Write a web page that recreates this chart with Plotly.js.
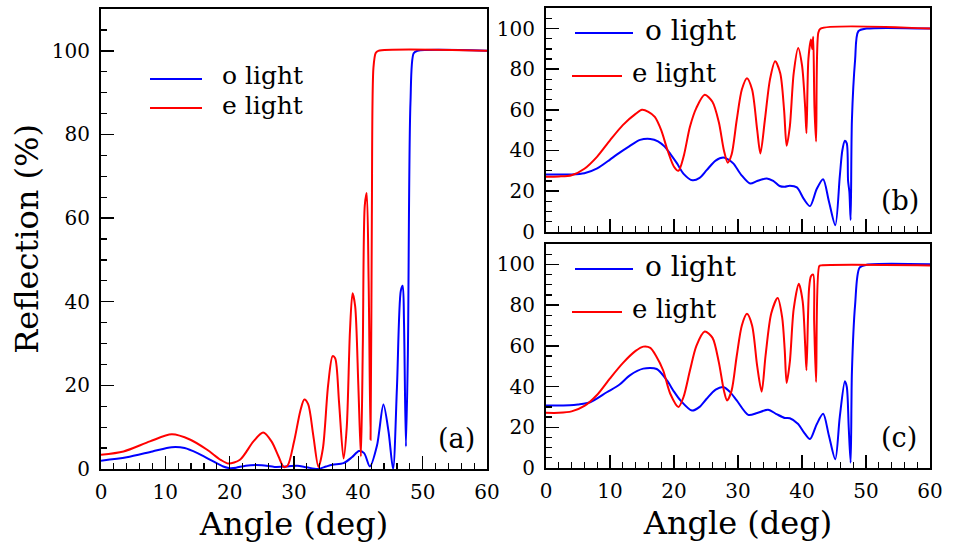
<!DOCTYPE html>
<html>
<head>
<meta charset="utf-8">
<script src="https://cdn.plot.ly/plotly-3.0.1.min.js"></script>
<style>html,body{margin:0;padding:0;background:#fff;}#chart{width:955px;height:555px;}</style>
</head>
<body>
<div id="chart"></div>
<script>
// ---------- DATA ----------
const angleA_o = [0,4,8,11,13,15,17,19,20,21,22.5,25,27,29,30.5,32,33.7,35,36,37.7,39,40.1,40.9,41.8,42.9,43.9,44.7,45.4,46.0,46.6,46.9,47.1,47.4,47.7,48.1,48.6,49.2,60];
const reflA_o  = [2.0,2.8,4.2,5.2,5.0,3.8,2.2,0.6,0.2,0.3,0.8,0.9,0.5,0.6,0.8,0.4,0.0,0.6,1.0,1.4,2.8,4.3,3.8,0.6,5.6,15.4,8.9,0.0,19.4,42.6,43.8,35,5.4,27.5,87.4,99.4,100,100];
const angleA_e = [0,3.5,7.6,11,13.9,16.5,18.6,19.8,21.6,23.7,25.2,26.5,27.6,28.4,29,30,31,31.6,32.2,33,33.8,34.5,35.3,36,36.4,37,37.7,38.2,38.7,39.1,39.5,40,40.4,40.7,41.0,41.3,41.6,41.9,42.1,42.35,42.7,43.1,60];
const reflA_e  = [3.4,4.2,6.6,8.3,7.0,4.6,2.2,1.3,2.2,6.6,8.7,6.6,3.0,0.5,0.8,6.5,14.0,16.6,15.5,8,0.5,5,20,27,26.5,16,2.5,10,33,42,39,20,3,30,63,66,45,7,60,96,99.5,100,100];
const angleB_o = [0,4,6,8,10,11,13,14.7,16.3,17.5,18.5,19.5,20.5,21.5,22.9,24,25.1,26.5,27.7,28.5,29.3,30.5,31.9,33,34.5,35.5,36.5,37.3,38.1,39.2,40.3,41.25,42.3,43.3,44.2,45.2,45.9,46.3,46.7,47.0,47.2,47.4,47.6,47.8,48.3,48.8,50.1,60];
const reflB_o  = [28.2,28.2,28.8,31.2,35.5,37.8,42,45.2,45.7,44.5,42,38,33.5,28.5,25.3,26.5,30.3,35,36.5,35.5,33.5,28,23.7,25,26.2,25,22.5,22.1,22.6,21.8,16,12.6,21,25.8,15,3.2,27.1,40,44.8,43.5,25,19.7,5.7,55,84.7,98.7,100,100];
const angleB_e = [0,2,4,6,8,10,12,14,15,16,17,18,19,20,20.7,21.5,22.5,23.5,24.8,26,27,27.8,28.4,29,29.8,30.6,31.4,32.2,33,33.5,34.2,35,35.8,36.6,37.2,37.6,38.1,38.7,39.4,40,40.5,40.7,41.0,41.4,41.6,41.75,41.95,42.2,42.55,42.9,60];
const reflB_e  = [27.1,27.2,27.8,31,37,45,52.5,58,60,59,56.5,50,40,32,30,37,51.8,61,67.4,64,54,40,34,38,55,70,75.6,70,50,38.5,55,75,83.9,78,60,42.3,51.8,78,90.5,82,60.8,48.5,85,94.6,90,96,61,44.4,97.9,100,100];
const angleC_o = [0,3.7,5,6.9,9.5,11.5,13.1,15.2,17.3,18.9,20,21,22.8,24,25.1,26.5,27.7,28.7,29.8,31.6,33,34.7,36,37.3,38.1,39.4,40.3,41.25,42.3,43.3,44.2,45.2,45.9,46.7,47.0,47.3,47.6,47.8,48.3,49.0,50.1,60];
const reflC_o  = [30.7,30.8,31.2,32.3,37.2,41,45.5,48.8,48.6,43,37.5,33.2,28.2,30,34,38.5,39.8,37.5,33.2,26.1,27,28.6,26.5,24.6,24.4,21.6,17.5,14.2,21.5,26.6,16,4.3,25,42.6,39.8,20,2.6,47.2,80.2,98.4,99.8,100];
const angleC_e = [0,2,4,6,8,10,12,14,15.2,16.3,17.2,18.3,19.4,20.7,21.5,22.5,23.5,24.8,26,27,27.8,28.3,29,29.8,30.6,31.4,32.2,33,33.7,34.3,35.2,36.2,36.9,37.3,37.6,38.1,38.7,39.5,40.1,40.5,40.7,41.1,41.4,41.75,41.9,42.2,42.7,43,60];
const reflC_e  = [27.1,27.1,27.8,30.5,36,44,51.5,57.5,59.6,59,55,48,36.6,30,35,48,60,67,64,52,38,33.2,38,55,70,75.7,70,50,37.5,55,76,83.5,74,58,41.8,52.1,78,90.5,82,60,48,88,94.2,95,72,42.2,99.2,99.5,99.5];
const xTickVals = [0,10,20,30,40,50,60];
const yTickVals = [0,20,40,60,80,100];
const seriesNames = ["o light","e light"];
const panelLabels = ["(a)","(b)","(c)"];
const xTitle = "Angle (deg)";
const yTitle = "Reflection (%)";

// ---------- STYLE / LAYOUT ----------
const W = 955, H = 555;
const px = v => v / W;
const py = v => 1 - v / H;
const BLUE = "#0000ff", RED = "#ff0000";
const FONT = "DejaVu Serif";

function tr(x, y, color, xa, ya, name) {
  return {x: x, y: y, type: "scatter", mode: "lines", name: name, showlegend: false,
          line: {color: color, width: 2, shape: "spline", smoothing: 0.8}, xaxis: xa, yaxis: ya, hoverinfo: "skip"};
}
const data = [
  tr(angleA_o, reflA_o, BLUE, "x", "y", seriesNames[0]),
  tr(angleA_e, reflA_e, RED, "x", "y", seriesNames[1]),
  tr(angleB_o, reflB_o, BLUE, "x2", "y2", seriesNames[0]),
  tr(angleB_e, reflB_e, RED, "x2", "y2", seriesNames[1]),
  tr(angleC_o, reflC_o, BLUE, "x3", "y3", seriesNames[0]),
  tr(angleC_e, reflC_e, RED, "x3", "y3", seriesNames[1])
];

function xax(dom, anchor, showLabels, title) {
  const a = {domain: dom, anchor: anchor, range: [0, 60], tickvals: xTickVals,
    showticklabels: showLabels, ticks: "inside", ticklen: 13, tickwidth: 1.5, tickcolor: "#000",
    minor: {dtick: 2, tick0: 0, ticks: "inside", ticklen: 6, tickwidth: 1.2, tickcolor: "#000"},
    showline: true, mirror: true, linewidth: 2, linecolor: "#000",
    showgrid: false, zeroline: false,
    tickfont: {family: FONT, size: 20, color: "#000"}, ticklabelstandoff: 4};
  if (title) a.title = {text: title, font: {family: FONT, size: 32, color: "#000"}, standoff: 10};
  return a;
}
function yax(dom, anchor, title) {
  const a = {domain: dom, anchor: anchor, range: [0, 110], tickvals: yTickVals,
    ticks: "inside", ticklen: 13, tickwidth: 1.5, tickcolor: "#000",
    minor: {dtick: 5, tick0: 0, ticks: "inside", ticklen: 6, tickwidth: 1.2, tickcolor: "#000"},
    showline: true, mirror: true, linewidth: 2, linecolor: "#000",
    showgrid: false, zeroline: false,
    tickfont: {family: FONT, size: 20, color: "#000"}, ticklabelstandoff: 5};
  if (title) a.title = {text: title, font: {family: FONT, size: 32, color: "#000"}, standoff: 4};
  return a;
}

const shapes = [];
const annotations = [];
function legendEntry(x0, x1, yLine, xText, yText, color, label, fs) {
  shapes.push({type: "line", xref: "paper", yref: "paper", x0: px(x0), x1: px(x1), y0: py(yLine), y1: py(yLine),
               line: {color: color, width: 2}});
  annotations.push({xref: "paper", yref: "paper", x: px(xText), y: py(yText), xanchor: "left", yanchor: "middle",
                    text: label, showarrow: false, font: {family: FONT, size: fs, color: "#000"}});
}
legendEntry(150, 202, 79, 220, 76, BLUE, seriesNames[0], 25);
legendEntry(150, 202, 108, 220, 105, RED, seriesNames[1], 25);
legendEntry(575, 633, 33, 643, 30, BLUE, seriesNames[0], 28);
legendEntry(572, 622, 76, 630, 73, RED, seriesNames[1], 26);
legendEntry(575, 633, 269, 643, 266, BLUE, seriesNames[0], 28);
legendEntry(572, 622, 312, 630, 309, RED, seriesNames[1], 26);

function panelLabel(cx, cy, t) {
  annotations.push({xref: "paper", yref: "paper", x: px(cx), y: py(cy), xanchor: "center", yanchor: "middle",
                    text: t, showarrow: false, font: {family: FONT, size: 27, color: "#000"}});
}
panelLabel(456, 438, panelLabels[0]);
panelLabel(900, 200, panelLabels[1]);
panelLabel(899, 437, panelLabels[2]);

const layout = {
  width: W, height: H, margin: {l: 0, r: 0, t: 0, b: 0, pad: 0},
  paper_bgcolor: "#fff", plot_bgcolor: "#fff", showlegend: false,
  font: {family: FONT, color: "#000"},
  xaxis: xax([px(101), px(487)], "y", true, xTitle),
  yaxis: yax([py(469), py(9)], "x", yTitle),
  xaxis2: xax([px(546), px(930)], "y2", false, null),
  yaxis2: yax([py(231.7), py(8.3)], "x2", null),
  xaxis3: xax([px(546), px(930)], "y3", true, xTitle),
  yaxis3: yax([py(468), py(244)], "x3", null),
  shapes: shapes, annotations: annotations
};
Plotly.newPlot("chart", data, layout, {staticPlot: true, displayModeBar: false});
</script>
</body>
</html>
